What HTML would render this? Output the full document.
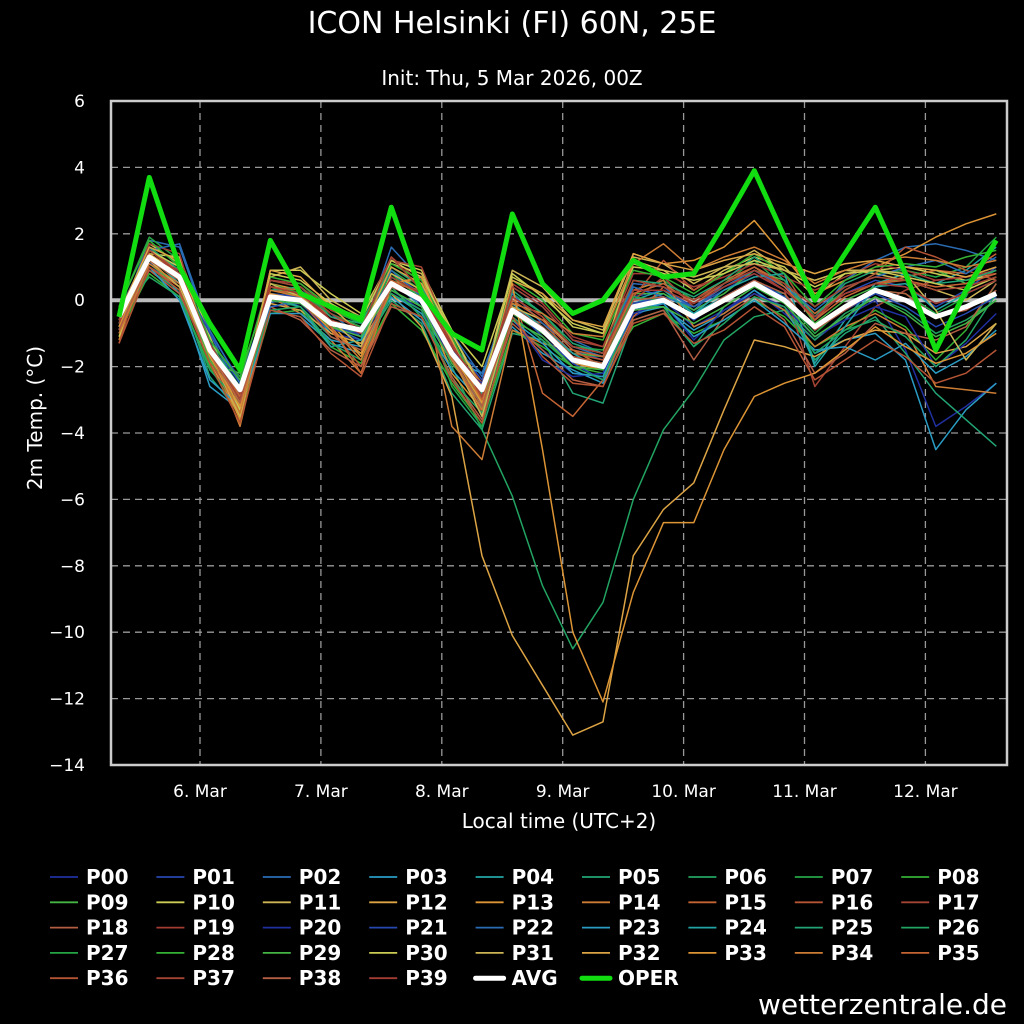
<!DOCTYPE html>
<html><head><meta charset="utf-8"><style>
html,body{margin:0;padding:0;background:#000;}
svg{display:block;font-family:"DejaVu Sans","Liberation Sans",sans-serif;}
</style></head><body>
<svg id="chart" width="1024" height="1024" viewBox="0 0 1024 1024" xmlns="http://www.w3.org/2000/svg">
<rect x="0" y="0" width="1024" height="1024" fill="#000"/>
<text x="512" y="33" fill="#fff" font-size="30" text-anchor="middle">ICON Helsinki (FI) 60N, 25E</text>
<text x="512" y="85" fill="#fff" font-size="20" text-anchor="middle">Init: Thu, 5 Mar 2026, 00Z</text>
<text transform="translate(42,418) rotate(-90)" fill="#fff" font-size="20" text-anchor="middle">2m Temp. (°C)</text>
<text x="559" y="828" fill="#fff" font-size="20" text-anchor="middle">Local time (UTC+2)</text>
<text x="1007" y="1014" fill="#fff" font-size="28" text-anchor="end">wetterzentrale.de</text>
<g id="grid"></g><g id="series"></g><g id="axes"></g><g id="legend"></g>
</svg>
<script>
const yTicks=[6,4,2,0,-2,-4,-6,-8,-10,-12,-14];
const dayLabels=["6. Mar","7. Mar","8. Mar","9. Mar","10. Mar","11. Mar","12. Mar"];
const dayIndex=[6,7,8,9,10,11,12];
const avg=[-0.5,1.3,0.7,-1.5,-2.7,0.1,0.0,-0.7,-0.9,0.5,0.0,-1.6,-2.7,-0.3,-0.9,-1.8,-2.0,-0.2,0.0,-0.5,0.0,0.5,0.0,-0.8,-0.2,0.3,0.0,-0.5,-0.2,0.2];
const oper=[-0.5,3.7,1.0,-0.7,-2.1,1.8,0.2,-0.2,-0.6,2.8,0.2,-1.0,-1.5,2.6,0.5,-0.4,0.0,1.2,0.7,0.8,2.3,3.9,1.9,0.0,1.4,2.8,0.8,-1.5,0.3,1.8];
const members=[
[-0.8,1.0,0.5,-1.8,-3.0,-0.2,-0.1,-1.0,-1.2,0.3,-0.3,-1.9,-3.0,-0.6,-1.5,-2.2,-2.3,-0.5,0.0,-0.8,-0.3,0.3,-0.4,-1.2,-0.5,0.0,-1.5,-3.8,-3.2,-2.5],
[-0.3,1.5,1.0,-1.2,-2.5,0.3,0.2,-0.5,-0.8,0.8,0.2,-1.3,-2.4,0.0,-0.6,-1.5,-1.8,0.1,0.3,-0.2,0.3,0.8,0.3,-0.5,0.2,0.6,0.4,-0.2,0.3,1.0],
[-0.6,1.8,1.6,-1.0,-2.8,-0.1,0.3,-0.4,-1.1,1.6,0.6,-1.0,-2.3,0.4,-0.2,-1.2,-1.6,0.5,0.4,-0.3,0.5,1.0,0.5,-0.6,0.6,1.2,1.6,1.7,1.5,1.2],
[-0.4,1.2,0.2,-2.6,-3.3,-0.3,-0.5,-1.3,-1.6,0.2,-0.4,-1.8,-2.2,-0.8,-1.6,-2.1,-2.5,-0.4,-0.2,-0.9,-0.4,0.3,-0.3,-1.6,-1.2,-1.0,-1.8,-4.5,-3.3,-2.5],
[-0.9,1.6,0.8,-1.6,-2.6,0.2,0.1,-1.0,-1.3,0.6,-0.2,-1.7,-3.5,-0.2,-0.8,-1.7,-1.9,-0.1,0.2,-0.4,0.1,0.6,0.1,-1.9,-0.6,0.5,0.8,0.5,0.9,1.6],
[-0.7,0.9,0.3,-2.3,-3.4,0.0,-0.2,-1.1,-1.5,0.0,-0.7,-2.8,-3.9,-1.0,-1.2,-2.8,-3.1,-0.6,-0.3,-1.4,-0.2,0.4,0.2,-1.8,-1.0,-0.5,-1.6,-2.8,-3.6,-4.4],
[-0.5,1.4,0.6,-1.7,-2.9,0.2,0.0,-0.8,-1.0,0.4,-0.5,-2.0,-3.9,-5.9,-8.6,-10.5,-9.1,-6.0,-3.9,-2.7,-1.2,-0.5,-0.3,-1.2,-0.4,0.1,-0.3,-1.0,-0.6,0.0],
[-0.2,1.9,1.2,-1.3,-2.3,0.6,0.4,-0.3,-0.7,0.9,0.3,-1.2,-2.9,0.2,-0.4,-1.4,-1.5,0.3,0.6,0.0,0.5,1.2,0.4,-0.4,0.3,0.8,0.9,0.7,1.0,1.9],
[-1.0,0.8,0.1,-2.0,-3.5,-0.4,-0.3,-1.4,-1.9,-0.1,-0.9,-2.5,-3.7,-0.9,-1.4,-2.0,-2.2,-0.8,-0.4,-1.0,-0.6,0.0,-0.5,-1.4,-0.9,-0.3,-0.8,-1.8,-0.9,0.5],
[-0.6,1.1,0.4,-1.9,-2.2,0.4,0.1,-0.6,-0.9,0.7,0.1,-1.5,-3.2,-0.4,-1.0,-1.6,-1.7,0.2,0.2,-0.3,0.2,0.9,0.6,-0.7,0.0,0.4,0.7,0.9,0.5,0.9],
[-0.4,1.4,1.3,-1.1,-3.2,0.9,0.9,0.2,-0.4,1.2,0.9,-0.9,-2.0,0.7,0.2,-0.8,-1.0,1.0,0.9,0.3,0.9,1.3,1.0,0.1,0.8,0.9,1.0,0.8,0.6,0.8],
[-0.8,1.7,1.1,-1.4,-3.1,0.7,1.0,0.0,-0.5,1.1,0.8,-1.0,-2.6,0.9,0.4,-0.6,-0.9,1.3,1.1,0.5,1.0,1.5,0.9,0.6,0.9,0.8,0.6,0.3,0.0,0.6],
[-0.9,1.3,0.5,-1.9,-3.4,-0.1,-0.3,-1.0,-1.3,0.2,-0.8,-2.9,-7.7,-10.1,-11.6,-13.1,-12.7,-7.7,-6.3,-5.5,-3.3,-1.2,-1.4,-1.7,-1.2,-0.9,-1.0,-1.6,-1.4,-0.7],
[-1.2,1.5,0.9,-1.6,-3.6,0.5,0.3,-0.7,-1.7,0.6,0.2,-2.2,-3.3,0.1,-0.5,-1.9,-2.1,1.4,1.1,1.2,1.6,2.4,1.3,0.2,0.6,1.0,1.4,1.9,2.3,2.6],
[-0.7,1.2,0.7,-1.5,-3.8,0.1,-0.4,-1.2,-2.2,0.4,0.7,-3.8,-4.8,-0.9,-1.3,-1.5,-2.0,0.3,0.6,-0.8,-0.4,0.2,-0.3,-1.4,-0.8,-0.4,-0.9,-2.6,-2.7,-2.8],
[-0.5,1.0,0.4,-1.4,-3.0,0.3,0.2,-0.5,-0.8,1.0,0.4,-1.3,-2.5,0.3,-2.8,-3.5,-2.4,-0.5,0.4,0.0,0.6,1.0,0.5,-0.4,0.2,0.5,0.7,0.9,0.8,1.4],
[-1.3,1.6,0.8,-1.8,-3.4,0.0,0.2,-0.9,-2.0,0.5,0.3,-1.6,-3.4,-0.4,-0.7,-1.6,-1.8,0.1,1.2,0.3,0.8,1.4,0.8,-0.6,0.3,0.8,1.6,1.3,0.9,0.6],
[-0.3,1.3,0.6,-1.3,-2.9,0.4,0.3,-0.6,-0.9,1.2,1.0,-1.2,-3.0,-0.1,-0.9,-1.7,-1.9,0.0,0.7,-0.2,0.4,0.9,0.3,-2.6,-1.4,-0.2,0.3,0.6,0.7,0.9],
[-0.9,0.9,0.2,-1.7,-3.3,-0.2,-0.6,-1.5,-2.0,-0.2,-0.5,-2.3,-3.6,-0.7,-1.5,-2.4,-2.6,-0.6,-0.3,-1.8,-0.5,0.1,-0.6,-2.2,-1.6,-0.7,-1.0,-1.2,-0.8,0.5],
[-0.6,1.7,1.4,-1.6,-3.0,0.6,0.5,-0.3,-0.6,1.3,0.5,-1.4,-2.8,0.5,-0.1,-1.1,-1.4,0.8,0.8,0.4,0.7,1.1,0.7,0.3,0.7,1.1,0.9,0.6,0.7,0.8],
[-0.5,1.1,0.9,-1.6,-2.7,0.0,-0.1,-0.9,-1.0,0.5,-0.1,-1.8,-2.5,-0.5,-1.8,-2.3,-2.2,-0.4,-0.1,-1.2,-0.3,0.2,-0.2,-1.1,-0.6,-0.2,-0.5,-2.0,-1.3,-0.4],
[-0.4,1.4,0.8,-1.0,-2.4,0.2,0.1,-0.7,-1.1,0.4,0.0,-1.5,-2.6,-0.2,-1.1,-1.9,-2.4,-0.1,0.1,-0.6,0.1,0.6,0.1,-0.9,-0.3,0.2,-0.2,-0.8,-0.4,0.1],
[-0.7,1.5,1.7,-0.9,-2.5,-0.2,0.0,-0.8,-1.2,0.9,0.1,-1.4,-2.2,0.2,-0.7,-1.4,-1.7,0.4,0.1,-0.2,0.4,0.9,0.4,-0.3,0.4,0.7,1.0,1.2,0.8,1.3],
[-0.3,1.0,0.0,-2.4,-3.2,-0.4,-0.4,-1.2,-1.4,0.1,-0.6,-2.1,-3.1,-0.6,-1.3,-2.2,-2.3,-0.3,-0.1,-1.1,-0.6,0.0,-0.7,-1.5,-1.4,-1.8,-1.3,-2.2,-1.7,-0.9],
[-0.8,1.3,0.5,-1.7,-2.8,0.1,-0.2,-1.4,-1.2,0.7,0.2,-1.7,-2.8,-0.1,-0.8,-1.6,-2.1,0.0,0.3,-0.4,0.3,0.7,0.8,-2.0,-0.8,0.4,0.5,-0.3,0.2,0.6],
[-0.6,1.6,0.9,-1.3,-2.6,0.3,0.4,-0.5,-0.7,1.0,0.4,-1.1,-3.3,0.3,-0.4,-1.3,-1.6,0.6,0.5,0.1,0.6,1.3,0.6,-0.5,0.5,0.9,0.8,0.5,0.6,0.9],
[-0.4,0.7,0.1,-2.1,-3.1,-0.3,-0.2,-1.3,-1.8,0.2,-0.3,-2.4,-3.4,-0.5,-1.2,-2.0,-2.4,-0.2,-0.2,-1.4,-0.7,0.1,-0.2,-1.6,-0.9,-0.6,-1.1,-2.0,-1.2,0.2],
[-0.5,1.2,0.6,-1.5,-2.7,0.5,0.2,-0.4,-0.8,0.8,0.0,-2.6,-3.8,-0.3,-0.9,-1.8,-1.9,0.1,0.0,-0.5,0.0,0.6,0.0,-1.0,-0.2,0.3,0.2,-0.4,0.1,1.8],
[-0.2,1.8,1.0,-1.2,-2.4,0.7,0.5,-0.2,-0.5,1.1,0.6,-1.1,-2.9,0.6,0.0,-1.0,-1.2,0.9,0.7,0.2,0.8,1.4,0.8,-0.2,0.6,1.0,1.1,1.0,1.3,1.5],
[-0.7,1.4,0.7,-1.8,-3.0,0.0,-0.1,-0.8,-1.1,0.3,-0.2,-1.9,-3.0,-0.6,-1.1,-2.0,-2.1,-0.3,-0.2,-0.7,-0.2,0.4,-0.1,-1.1,-0.5,0.1,-0.4,-1.1,-0.7,0.0],
[-1.1,1.5,1.0,-1.4,-3.3,0.8,0.6,-0.1,-0.6,1.2,0.7,-1.0,-2.7,0.8,0.1,-0.7,-1.0,1.1,0.8,0.6,0.8,1.2,0.9,0.4,0.8,0.9,0.7,0.5,0.3,0.7],
[-0.6,1.2,0.4,-1.6,-3.5,0.5,0.1,-0.6,-1.4,0.8,0.3,-1.7,-3.5,-0.2,-0.6,-1.4,-1.6,1.2,0.9,0.7,1.0,1.1,0.9,0.6,0.9,0.9,0.8,-0.3,-1.8,-0.7],
[-0.4,1.6,1.2,-1.5,-3.1,0.9,0.7,-0.2,-1.0,1.0,0.5,-1.2,-3.1,0.6,0.2,-0.6,-0.8,1.4,1.1,0.9,1.2,1.4,1.1,0.8,1.1,1.2,1.0,0.9,0.7,1.0],
[-0.8,1.4,0.8,-1.7,-3.2,0.2,0.0,-0.9,-1.6,0.5,0.7,-1.6,-3.1,0.5,-4.5,-10.0,-12.1,-8.8,-6.7,-6.7,-4.5,-2.9,-2.5,-2.2,-1.5,-0.8,-1.4,-1.9,-1.6,-1.0],
[-1.0,1.1,0.5,-1.6,-3.4,0.3,0.1,-0.8,-1.8,0.4,0.1,-1.8,-3.3,-0.1,-0.4,-1.0,-1.1,1.1,1.7,0.9,1.3,1.6,1.2,0.5,0.9,1.2,1.3,1.2,1.0,1.2],
[-0.5,1.3,0.7,-1.4,-2.9,0.4,0.3,-0.8,-2.2,0.6,0.2,-1.5,-3.0,0.0,-0.6,-1.5,-1.7,0.2,0.5,-0.1,0.5,1.0,0.4,-0.6,0.1,0.5,0.6,0.4,0.5,0.8],
[-1.3,1.0,0.3,-1.9,-3.7,-0.3,-0.5,-1.6,-2.3,-0.1,-0.5,-2.4,-3.7,-0.5,-1.7,-2.5,-2.6,-0.7,-0.4,-1.3,-0.9,-0.2,-0.8,-2.4,-1.8,-1.2,-1.7,-2.5,-2.2,-1.5],
[-0.7,1.5,0.8,-1.5,-3.0,0.6,0.4,-0.4,-0.9,1.3,0.3,-1.3,-2.9,0.4,-0.2,-1.2,-1.4,0.6,0.4,0.0,0.5,0.9,0.5,-0.2,0.4,0.7,0.6,0.3,0.4,0.7],
[-0.9,1.2,0.6,-1.6,-3.1,0.1,0.0,-1.1,-1.5,0.4,0.0,-1.7,-3.2,-0.3,-0.8,-1.7,-1.9,0.0,0.1,-0.5,0.1,0.6,0.2,-0.9,-0.3,0.3,0.2,-0.5,-0.3,0.3],
[-0.6,1.3,0.9,-1.3,-2.8,0.4,0.2,-0.6,-1.0,0.7,0.2,-1.4,-2.6,0.1,-0.5,-1.4,-1.6,0.3,0.3,-0.1,0.4,0.8,0.3,-0.5,0.2,0.5,0.4,-0.1,0.2,0.6]
];
const palette=["#2030a0","#2648b0","#2a6cb4","#2a9cc4","#22a4a4","#22a474","#22a462","#24a444","#34b034","#44b444","#cccc55","#ccb455","#dca444","#dc9434","#cc7c34","#c46434","#b45434","#a44434","#b45e44","#a43c34"];
const NS="http://www.w3.org/2000/svg";
const L=111,R=1007,T=101,B=765;
function ys(v){return T+(6-v)*(B-T)/20;}
function xs(i){return 119+30.25*i;}
function xd(d){return 200+120.9*(d-6);}
function mk(tag,attrs,parent){const e=document.createElementNS(NS,tag);for(const k in attrs)e.setAttribute(k,attrs[k]);parent.appendChild(e);return e;}
const grid=document.getElementById('grid'),series=document.getElementById('series'),axes=document.getElementById('axes'),legend=document.getElementById('legend');
yTicks.forEach(v=>{
  if(v!==6&&v!==-14){const g=mk('line',{x1:L,x2:R,y1:ys(v),y2:ys(v),stroke:'#999','stroke-width':1.3,'stroke-dasharray':'7,5'},grid);
  
  }
  const t=mk('text',{x:85,y:ys(v)+6,fill:'#fff','font-size':17,'text-anchor':'end'},axes);
  
  
  t.textContent=(v<0?'\u2212'+(-v):v);
});
dayIndex.forEach((d,k)=>{
  const g=mk('line',{x1:xd(d),x2:xd(d),y1:T,y2:B,stroke:'#999','stroke-width':1.3,'stroke-dasharray':'7,5'},grid);
  
  
  const t=mk('text',{x:xd(d),y:797,fill:'#fff','font-size':17,'text-anchor':'middle'},axes);
  
  
  t.textContent=dayLabels[k];
});
const z=mk('line',{x1:L,x2:R,y1:ys(0),y2:ys(0),stroke:'#bbb','stroke-width':4},grid);


function pts(arr){return arr.map((v,i)=>xs(i).toFixed(1)+','+ys(v).toFixed(1)).join(' ');}
members.forEach((m,k)=>{
  const p=mk('polyline',{points:pts(m),fill:'none',stroke:palette[k%20],'stroke-width':1.5,'stroke-linejoin':'round'},series);
  
  
});
const a=mk('polyline',{points:pts(avg),fill:'none',stroke:'#fff','stroke-width':5,'stroke-linejoin':'round'},series);


const o=mk('polyline',{points:pts(oper),fill:'none',stroke:'#11dd11','stroke-width':5,'stroke-linejoin':'round'},series);


const fr=mk('rect',{x:L,y:T,width:R-L,height:B-T,fill:'none',stroke:'#ccc','stroke-width':2.5},axes);


const names=[];for(let i=0;i<40;i++)names.push('P'+String(i).padStart(2,'0'));names.push('AVG');names.push('OPER');
names.forEach((n,i)=>{
  const c=i%9,r=Math.floor(i/9);const x=50+106.4*c,y=877+25.3*r;
  const g=mk('g',{},legend);
  
  
  const col=i<40?palette[i%20]:(n==='AVG'?'#fff':'#11dd11');
  mk('line',{x1:x,x2:x+28,y1:y,y2:y,stroke:col,'stroke-width':i<40?1.8:5,'stroke-linecap':i<40?'butt':'round'},g);
  const t=mk('text',{x:x+36,y:y+7,fill:'#fff','font-size':20,'font-weight':'bold'},g);
  t.textContent=n;
});
</script>
</body></html>
